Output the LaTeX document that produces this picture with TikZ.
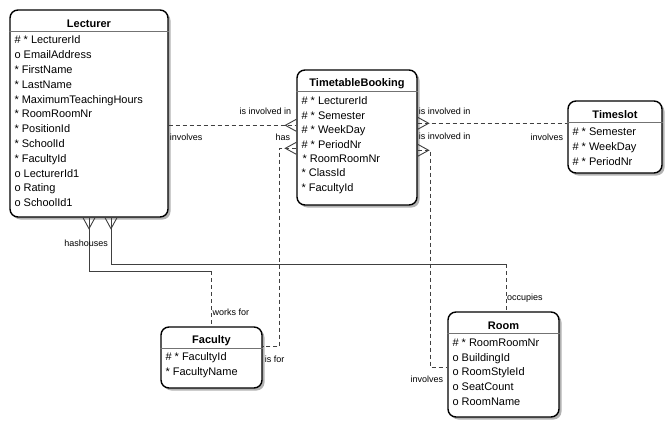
\documentclass[tikz,border=0pt]{standalone}
\usepackage{fontspec}
\setmainfont{Liberation Sans}
\usetikzlibrary{calc,shadows}
\tikzset{
  entity/.style={draw, line width=1.4pt, rounded corners=8pt, fill=white, inner sep=0pt,
    drop shadow={shadow xshift=2.5pt, shadow yshift=-2.5pt, fill=black, opacity=.3}},
  sepline/.style={draw=black!55, line width=1.3pt},
  title/.style={font=\fontsize{11}{13}\selectfont\bfseries, inner sep=0pt},
  attr/.style={font=\fontsize{11}{13}\selectfont, inner sep=0pt, text height=8.5pt, text depth=2.5pt, anchor=west},
  rel/.style={font=\fontsize{9}{10}\selectfont, inner sep=0pt, text height=6.5pt, text depth=1.5pt},
  link/.style={draw=black!75, line width=0.9pt},
  opt/.style={link, dash pattern=on 4pt off 3pt},
  foot/.style={draw=black!75, line width=0.9pt},
  crowfoot/.pic={\draw[foot] (0,-6) -- (11,0) -- (0,6);}
}
\begin{document}
\begin{tikzpicture}[x=1pt, y=-1pt]
\useasboundingbox (0,0) rectangle (670,426);
\fill[white] (0,0) rectangle (670,426);

% entities
\node[entity, minimum width=158pt, minimum height=207pt] (lecturer) at (89,113.5) {};
\node[entity, minimum width=120pt, minimum height=135pt] (booking) at (357,137.5) {};
\node[entity, minimum width=94pt, minimum height=72pt] (timeslot) at (615,137) {};
\node[entity, minimum width=101pt, minimum height=61pt] (faculty) at (211.5,357.5) {};
\node[entity, minimum width=111pt, minimum height=105pt] (room) at (503.5,364.5) {};

\foreach \e/\t in {lecturer/Lecturer, booking/TimetableBooking, timeslot/Timeslot, faculty/Faculty, room/Room} {
  \node[title] (\e-t) at ($(\e.north)+(0,14)$) {\t};
  \draw[sepline] ($(\e.north west)+(0,22)$) -- ($(\e.north east)+(0,22)$);
}

% attributes
\foreach \a [count=\i from 0] in {\# * LecturerId, o EmailAddress, * FirstName, * LastName,
    * MaximumTeachingHours, * RoomRoomNr, * PositionId, * SchoolId, * FacultyId,
    o LecturerId1, o Rating, o SchoolId1}
  \node[attr] (lecturer-a\i) at ($(lecturer.north west)+(5,{31.5+14.8*\i})$) {\a};
\foreach \a [count=\i from 0] in {\# * LecturerId, \# * Semester, \# * WeekDay, \# * PeriodNr,
    \hspace{1pt}* RoomRoomNr, * ClassId, * FacultyId}
  \node[attr] (booking-a\i) at ($(booking.north west)+(5,{32.5+14.4*\i})$) {\a};
\foreach \a [count=\i from 0] in {\# * Semester, \# * WeekDay, \# * PeriodNr}
  \node[attr] (timeslot-a\i) at ($(timeslot.north west)+(5,{32+15*\i})$) {\a};
\foreach \a [count=\i from 0] in {\# * FacultyId, * FacultyName}
  \node[attr] (faculty-a\i) at ($(faculty.north west)+(5,{31+15.5*\i})$) {\a};
\foreach \a [count=\i from 0] in {\# * RoomRoomNr, o BuildingId, o RoomStyleId, o SeatCount, o RoomName}
  \node[attr] (room-a\i) at ($(room.north west)+(5,{32+14.75*\i})$) {\a};

% connector ends
\coordinate (booking-l1) at ($(booking.north west)+(0,56)$);
\coordinate (booking-l2) at ($(booking.north west)+(0,79)$);
\coordinate (booking-r1) at ($(booking.north east)+(0,54)$);
\coordinate (booking-r2) at ($(booking.north east)+(0,81)$);
\coordinate (faculty-r) at ($(faculty.north east)+(0,20)$);
\coordinate (room-l) at ($(room.north west)+(0,56)$);
\coordinate (lecturer-b1) at (lecturer.south);
\coordinate (lecturer-b2) at ($(lecturer.south)+(22,0)$);

% relationships
\draw[opt] (lecturer.east |- booking-l1) -- (booking-l1);
\draw[opt] (booking-l2) -| ($(faculty-r)+(17,0)$) -- (faculty-r);
\draw[opt] (booking-r1) -- (timeslot.west |- booking-r1);
\draw[opt] (booking-r2) -| ($(room-l)+(-17,0)$) -- (room-l);
\draw[link] (lecturer-b1) |- ($(faculty.north)+(0,-55)$) coordinate (has-m);
\draw[opt] (has-m) -- (faculty.north);
\draw[link] (lecturer-b2) |- ($(room.north)+(2.5,-47)$) coordinate (houses-m);
\draw[opt] (houses-m) -- (houses-m |- room.north);

% crow's feet
\pic[rotate=180] at (booking-l1) {crowfoot};
\pic[rotate=180] at (booking-l2) {crowfoot};
\pic at (booking-r1) {crowfoot};
\pic at (booking-r2) {crowfoot};
\pic[rotate=-90] at (lecturer-b1) {crowfoot};
\pic[rotate=-90] at (lecturer-b2) {crowfoot};

% relationship labels
\node[rel, anchor=west] (l-involves1) at ($(lecturer.east |- booking-l1)+(1,13)$) {involves};
\node[rel, anchor=east] (l-involved1) at ($(booking-l1)+(-5,-13)$) {is involved in};
\node[rel, anchor=east] (l-has1) at ($(booking-l2)+(-6,-10)$) {has};
\node[rel, anchor=west] (l-involved2) at ($(booking-r1)+(1,-11)$) {is involved in};
\node[rel, anchor=west] (l-involved3) at ($(booking-r2)+(1,-13)$) {is involved in};
\node[rel, anchor=east] (l-involves2) at ($(timeslot.west |- booking-r1)+(-4,15)$) {involves};
\node[rel, anchor=east] (l-involves3) at ($(room-l)+(-4,13)$) {involves};
\node[rel, anchor=west] (l-occupies) at ($(houses-m |- room.north)+(1,-13)$) {occupies};
\node[rel, anchor=west] (l-isfor) at ($(faculty-r)+(2,14)$) {is for};
\node[rel, anchor=west] (l-worksfor) at ($(faculty.north)+(1,-13)$) {works for};
\node[rel, anchor=east] (l-has2) at ($(lecturer-b1)+(-10,26)$) {has};
\node[rel, anchor=east] (l-houses) at ($(lecturer-b2)+(-3,26)$) {houses};
\end{tikzpicture}
\end{document}
